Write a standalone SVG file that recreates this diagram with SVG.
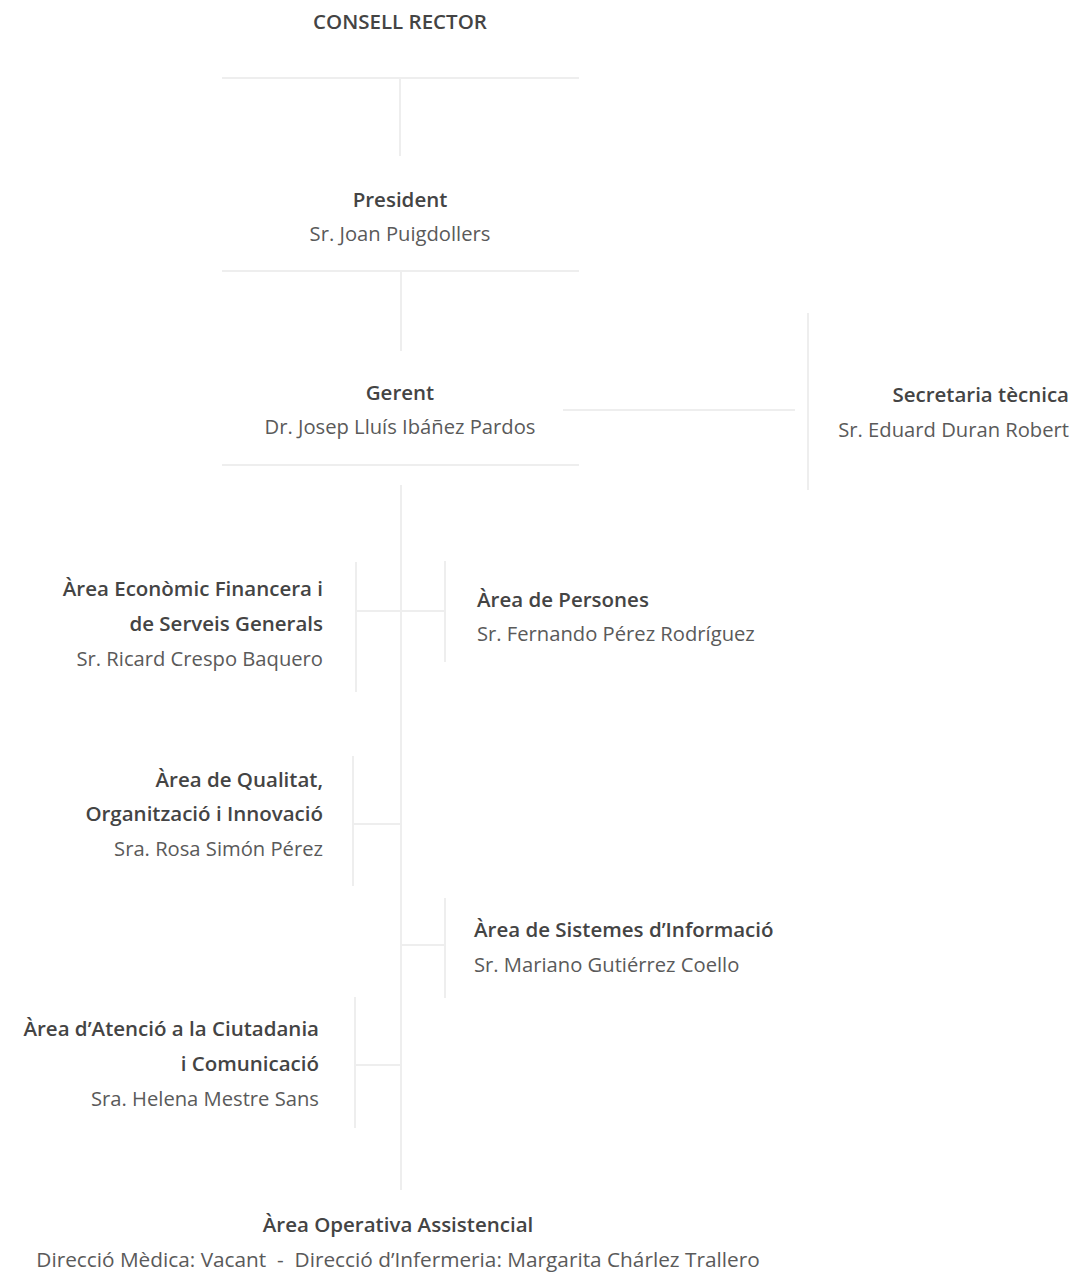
<svg xmlns="http://www.w3.org/2000/svg" width="1075" height="1272" viewBox="0 0 1075 1272">
<style>
text{font-family:"Open Sans","Liberation Sans",sans-serif}
.t{font-weight:600;fill:#444;font-size:20.5px}
.n{font-weight:400;fill:#5a5a5a;font-size:20.2px}
.c{text-anchor:middle}
.r{text-anchor:end}
.l{stroke:#eeeeee;stroke-width:2;fill:none}
</style>
<rect width="1075" height="1272" fill="#ffffff"/>
<g id="connectors" class="l">
<path d="M222 78H579M400 79V156"/>
<path d="M222 271H579M401 272V351"/>
<path d="M222 465H579M563 410H795M808 313V490"/>
<path d="M401 485V1190"/>
<path d="M356 562V692M356 611H445M445 561V662"/>
<path d="M353 756V886M353 824H401"/>
<path d="M445 898V998M401 945H445"/>
<path d="M355 997V1128M355 1065H401"/>
</g>
<g id="consell"><text class="t c" x="400" y="29">CONSELL RECTOR</text></g>
<g id="president"><text class="t c" x="400" y="207">President</text><text class="n c" x="400" y="241">Sr. Joan Puigdollers</text></g>
<g id="gerent"><text class="t c" x="400" y="400">Gerent</text><text class="n c" x="400" y="434">Dr. Josep Lluís Ibáñez Pardos</text></g>
<g id="secretaria"><text class="t r" x="1069" y="402">Secretaria tècnica</text><text class="n r" x="1069" y="437">Sr. Eduard Duran Robert</text></g>
<g id="economic"><text class="t r" x="323" y="596">Àrea Econòmic Financera i</text><text class="t r" x="323" y="631">de Serveis Generals</text><text class="n r" x="323" y="666">Sr. Ricard Crespo Baquero</text></g>
<g id="persones"><text class="t" x="477" y="607">Àrea de Persones</text><text class="n" x="477" y="641">Sr. Fernando Pérez Rodríguez</text></g>
<g id="qualitat"><text class="t r" x="323" y="787">Àrea de Qualitat,</text><text class="t r" x="323" y="821">Organització i Innovació</text><text class="n r" x="323" y="856">Sra. Rosa Simón Pérez</text></g>
<g id="sistemes"><text class="t" x="474" y="937">Àrea de Sistemes d’Informació</text><text class="n" x="474" y="972">Sr. Mariano Gutiérrez Coello</text></g>
<g id="atencio"><text class="t r" x="319" y="1036">Àrea d’Atenció a la Ciutadania</text><text class="t r" x="319" y="1071">i Comunicació</text><text class="n r" x="319" y="1106">Sra. Helena Mestre Sans</text></g>
<g id="operativa"><text class="t c" x="398" y="1232">Àrea Operativa Assistencial</text><text class="n c" x="398" y="1267" style="font-size:20.8px">Direcció Mèdica: Vacant &#160;-&#160; Direcció d’Infermeria: Margarita Chárlez Trallero</text></g>
</svg>
